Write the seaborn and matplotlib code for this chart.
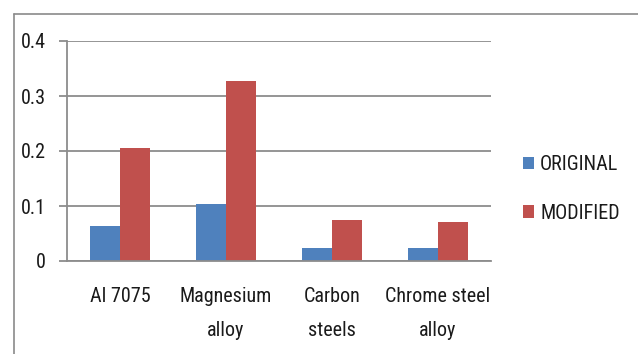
import matplotlib
matplotlib.use("Agg")
import matplotlib.pyplot as plt
from matplotlib import font_manager
from matplotlib.lines import Line2D
import seaborn as sns
import pandas as pd

# Data
materials = ["Al 7075", "Magnesium\nalloy", "Carbon\nsteels", "Chrome steel\nalloy"]
original = [0.063, 0.103, 0.023, 0.023]
modified = [0.206, 0.328, 0.074, 0.071]
series_names = ["ORIGINAL", "MODIFIED"]
y_ticks = [0, 0.1, 0.2, 0.3, 0.4]
y_tick_labels = ["0", "0.1", "0.2", "0.3", "0.4"]
colors = ["#4F81BD", "#C0504D"]

sns.set_theme(style="white")

# pick a narrow sans face if present
available = {f.name for f in font_manager.fontManager.ttflist}
family = ["DejaVu Sans"]
for cand in ["Liberation Sans Narrow", "Roboto Condensed", "Open Sans Condensed"]:
    if cand in available:
        family = [cand, "DejaVu Sans"]
        break
plt.rcParams["font.family"] = family
fs = 14.5
txt_c = "#1a1a1a"

df = pd.DataFrame({
    "material": materials * 2,
    "series": [series_names[0]] * len(materials) + [series_names[1]] * len(materials),
    "value": original + modified,
})

W, H = 638, 354
fig = plt.figure(figsize=(W / 100, H / 100), dpi=100)
ax = fig.add_axes([67 / W, 1 - 261 / H, (491 - 67) / W, (261 - 41) / H])

sns.barplot(data=df, x="material", y="value", hue="series", palette=colors,
            saturation=1, width=0.56, gap=0, ax=ax, errorbar=None,
            edgecolor="none", linewidth=0)

grid_c = "#8c8c8c"
ax.set_ylim(0, 0.4)
ax.set_xlim(-0.5, len(materials) - 0.5)
ax.set_yticks(y_ticks)
ax.set_yticklabels(y_tick_labels, fontsize=fs, color=txt_c)
ax.yaxis.grid(True, color=grid_c, linewidth=1.3)
ax.set_axisbelow(True)

# category boundaries as major ticks, labels centred as minor ticks
ax.set_xticks([i - 0.5 for i in range(len(materials) + 1)])
ax.set_xticklabels([""] * (len(materials) + 1))
ax.set_xticks(range(len(materials)), minor=True)
ax.set_xticklabels(materials, minor=True, fontsize=fs, color=txt_c,
                   linespacing=1.95, va="top")
ax.tick_params(axis="x", which="minor", length=0, pad=19)
ax.tick_params(axis="x", which="major", length=6, width=1.3, color=grid_c, direction="out")
ax.tick_params(axis="y", length=6, width=1.3, color=grid_c, direction="out", pad=9, left=True)

for s in ["top", "right"]:
    ax.spines[s].set_visible(False)
for s in ["left", "bottom"]:
    ax.spines[s].set_color(grid_c)
    ax.spines[s].set_linewidth(1.3)
ax.set_xlabel("")
ax.set_ylabel("")

handles, labels = ax.get_legend_handles_labels()
leg = ax.legend(handles, labels, loc="center left", bbox_to_anchor=(505 / W, 1 - 189 / H),
                bbox_transform=fig.transFigure, frameon=False, fontsize=fs,
                handlelength=0.55, handleheight=0.55, handletextpad=0.3, labelspacing=1.45)
for t in leg.get_texts():
    t.set_color(txt_c)

# outer chart frame
fc = "#8a8a8a"
fig.add_artist(Line2D([13.5 / W, 13.5 / W], [0, 1 - 13.5 / H], color=fc, linewidth=1.2,
                      transform=fig.transFigure))
fig.add_artist(Line2D([13.5 / W, 1], [1 - 13.5 / H, 1 - 13.5 / H], color=fc, linewidth=1.2,
                      transform=fig.transFigure))

fig.savefig("out.png", dpi=100)
